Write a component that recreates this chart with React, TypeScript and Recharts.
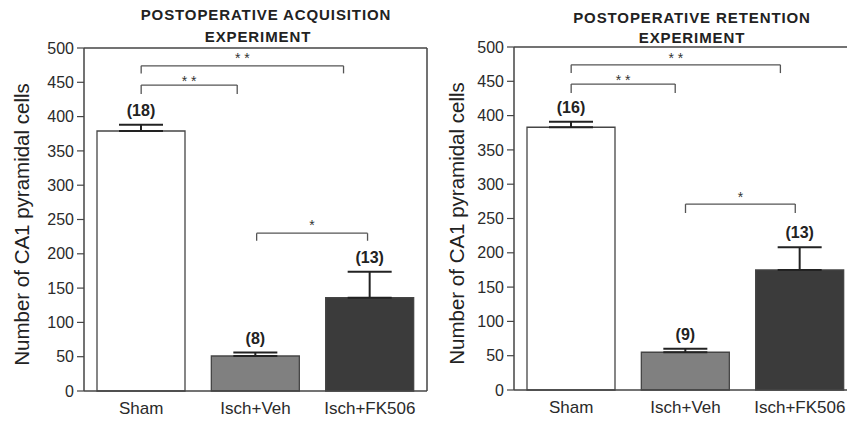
import React from 'react';
import {
  BarChart,
  Bar,
  XAxis,
  YAxis,
  ErrorBar,
  Cell,
  LabelList,
  ReferenceLine,
} from 'recharts';

const categories = ['Sham', 'Isch+Veh', 'Isch+FK506'];
const yTicks = [0, 50, 100, 150, 200, 250, 300, 350, 400, 450, 500];

const acqMeans = [379, 51, 136];
const acqSem = [9, 5, 38];
const acqN = [18, 8, 13];

const retMeans = [383, 55, 175];
const retSem = [8, 5, 33];
const retN = [16, 9, 13];

const FILLS = ['#ffffff', '#808080', '#3b3b3b'];
const FONT = '"Liberation Sans", Arial, Helvetica, sans-serif';
const AXIS = '#454545';

interface Bracket {
  from: number;
  to: number;
  y: number;
  drop: number;
  stars: string;
  starDy: number;
}

// significance brackets (x in category units, y in data units)
const acqBrackets: Bracket[] = [
  { from: 0.5, to: 2.27, y: 474, drop: 11, stars: '* *', starDy: -3 },
  { from: 0.5, to: 1.34, y: 446, drop: 13, stars: '* *', starDy: 1 },
  { from: 1.51, to: 2.48, y: 230, drop: 11, stars: '*', starDy: -3 },
];

const retBrackets: Bracket[] = [
  { from: 0.5, to: 2.33, y: 474, drop: 12, stars: '* *', starDy: -2 },
  { from: 0.5, to: 1.41, y: 446, drop: 13, stars: '* *', starDy: 1 },
  { from: 1.5, to: 2.46, y: 271, drop: 13, stars: '*', starDy: -2 },
];

function buildRows(means: number[], sem: number[], n: number[]) {
  return categories.map((name, i) => ({
    name,
    x: i + 0.5,
    mean: means[i],
    err: [0, sem[i]],
    n: n[i],
  }));
}

function makeNLabel(means: number[], sem: number[]) {
  return function NLabel(props: any) {
    const vb = props.viewBox ?? props;
    const x = props.x ?? vb.x;
    const y = props.y ?? vb.y;
    const width = props.width ?? vb.width;
    const height = props.height ?? vb.height;
    const i = props.index;
    const pxPerUnit = height / means[i];
    const top = y - sem[i] * pxPerUnit;
    return (
      <text
        x={x + width / 2}
        y={top - 9}
        textAnchor="middle"
        fontSize={16}
        fontWeight="bold"
        fontFamily={FONT}
        fill="#222"
      >
        ({props.value})
      </text>
    );
  };
}

function makeStarLabel(stars: string, dy: number) {
  return function StarLabel(props: any) {
    const vb = props.viewBox;
    return (
      <text
        x={vb.x + vb.width / 2}
        y={vb.y + dy}
        textAnchor="middle"
        fontSize={14}
        fontFamily={FONT}
        fill="#333"
      >
        {stars}
      </text>
    );
  };
}

function makeYLabel(cx: number) {
  return function YLabel(props: any) {
    const vb = props.viewBox;
    const cy = vb.y + vb.height / 2 + 5;
    return (
      <text
        x={cx}
        y={cy}
        transform={`rotate(-90, ${cx}, ${cy})`}
        textAnchor="middle"
        dominantBaseline="central"
        fontSize={20.5}
        fontFamily={FONT}
        fill="#222"
      >
        Number of CA1 pyramidal cells
      </text>
    );
  };
}

interface PanelProps {
  means: number[];
  sem: number[];
  n: number[];
  brackets: Bracket[];
  left: number;
  top: number;
  labelX: number;
}

function Panel({ means, sem, n, brackets, left, top, labelX }: PanelProps) {
  const rows = buildRows(means, sem, n);
  return (
    <div style={{ position: 'absolute', left, top }}>
      <BarChart
        width={440}
        height={421}
        data={rows}
        margin={{ top: 48, right: 13, bottom: 5, left: 40 }}
      >
        <XAxis
          type="number"
          dataKey="x"
          domain={[0, 3]}
          ticks={[0.5, 1.5, 2.5]}
          tickFormatter={(v: number) => categories[Math.floor(v)]}
          allowDecimals
          height={25}
          tickLine={false}
          tickMargin={5}
          axisLine={{ stroke: AXIS, strokeWidth: 1.5 }}
          tick={{ fill: '#2a2a2a', fontSize: 17, fontFamily: FONT }}
        />
        <YAxis
          domain={[0, 500]}
          ticks={yTicks}
          interval={0}
          width={44}
          tickSize={7}
          tickMargin={3}
          axisLine={{ stroke: AXIS, strokeWidth: 1.5 }}
          tickLine={{ stroke: AXIS, strokeWidth: 1.2 }}
          tick={{ fill: '#2a2a2a', fontSize: 16, fontFamily: FONT }}
          label={{ content: makeYLabel(labelX) } as any}
        />
        <ReferenceLine y={500} stroke={AXIS} strokeWidth={1.5} />
        <ReferenceLine
          segment={[{ x: 3, y: 0 }, { x: 3, y: 500 }]}
          stroke={AXIS}
          strokeWidth={1.5}
        />
        <Bar
          dataKey="mean"
          barSize={88}
          stroke={AXIS}
          strokeWidth={1.3}
          isAnimationActive={false}
        >
          {rows.map((r, i) => (
            <Cell key={r.name} fill={FILLS[i]} />
          ))}
          <ErrorBar
            dataKey="err"
            width={22}
            stroke="#222"
            strokeWidth={2}
            isAnimationActive={false}
          />
          <LabelList dataKey="n" content={makeNLabel(means, sem)} />
        </Bar>
        {brackets.map((b, i) => (
          <ReferenceLine
            key={`h${i}`}
            segment={[{ x: b.from, y: b.y }, { x: b.to, y: b.y }]}
            stroke="#555"
            strokeWidth={1.3}
            label={{ content: makeStarLabel(b.stars, b.starDy) } as any}
          />
        ))}
        {brackets.map((b, i) => (
          <ReferenceLine
            key={`l${i}`}
            segment={[{ x: b.from, y: b.y }, { x: b.from, y: b.y - b.drop }]}
            stroke="#555"
            strokeWidth={1.3}
          />
        ))}
        {brackets.map((b, i) => (
          <ReferenceLine
            key={`r${i}`}
            segment={[{ x: b.to, y: b.y }, { x: b.to, y: b.y - b.drop }]}
            stroke="#555"
            strokeWidth={1.3}
          />
        ))}
      </BarChart>
    </div>
  );
}

const titleStyle: React.CSSProperties = {
  position: 'absolute',
  width: 300,
  textAlign: 'center',
  fontFamily: FONT,
  fontWeight: 'bold',
  fontSize: 15,
  lineHeight: '15px',
  letterSpacing: '0.9px',
  color: '#222',
  whiteSpace: 'nowrap',
};

export default function App() {
  return (
    <div
      style={{
        position: 'fixed',
        left: 0,
        top: 0,
        width: 847,
        height: 421,
        overflow: 'hidden',
        background: '#ffffff',
        fontFamily: FONT,
      }}
    >
      <div style={{ ...titleStyle, left: 116, top: 7 }}>POSTOPERATIVE ACQUISITION</div>
      <div style={{ ...titleStyle, left: 108, top: 29 }}>EXPERIMENT</div>
      <div style={{ ...titleStyle, left: 542, top: 10 }}>POSTOPERATIVE RETENTION</div>
      <div style={{ ...titleStyle, left: 542, top: 30 }}>EXPERIMENT</div>

      <Panel
        means={acqMeans}
        sem={acqSem}
        n={acqN}
        brackets={acqBrackets}
        left={0}
        top={0}
        labelX={21}
      />
      <Panel
        means={retMeans}
        sem={retSem}
        n={retN}
        brackets={retBrackets}
        left={430}
        top={-1}
        labelX={26}
      />
    </div>
  );
}
